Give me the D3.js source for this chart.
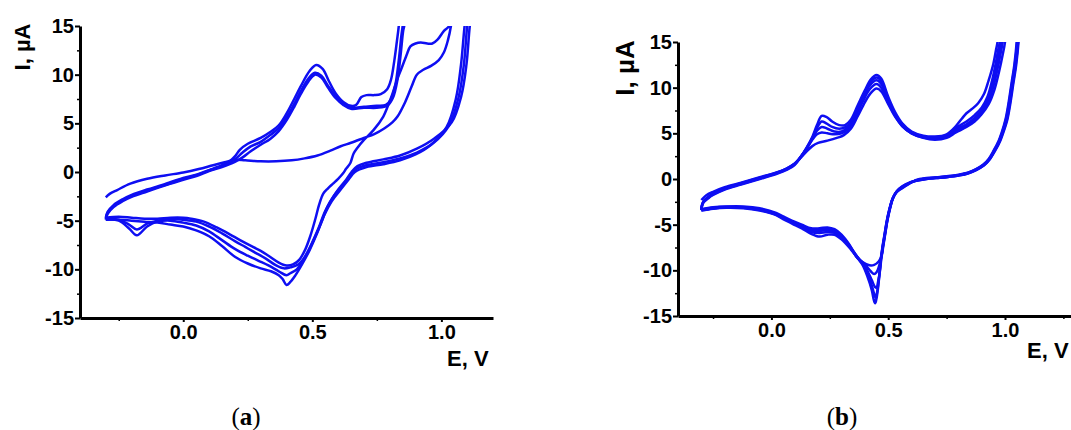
<!DOCTYPE html>
<html><head><meta charset="utf-8">
<script src="https://cdn.jsdelivr.net/npm/d3@7"></script>
<style>body{margin:0;background:#fff}svg{display:block}</style>
</head><body>
<svg id="c" width="1071" height="430"></svg>
<script>
// ---------- DATA (E in V, I in µA) ----------
// Panel (a): four potential cycles
const aCycle1 = [[-0.300,-2.6],[-0.285,-2.25],[-0.256,-1.85],[-0.205,-1.2],[-0.14,-0.7],[-0.07,-0.35],[0.0,-0.05],[0.06,0.3],[0.116,0.7],[0.16,1.0],[0.2,1.25],[0.24,1.2],[0.3,1.1],[0.36,1.1],[0.42,1.2],[0.47,1.4],[0.52,1.7],[0.57,2.2],[0.61,2.65],[0.65,3.0],[0.7,3.5],[0.74,3.9],[0.78,4.5],[0.81,5.1],[0.83,5.7],[0.86,7.2],[0.885,8.8],[0.905,10.0],[0.93,10.5],[0.96,10.9],[0.99,11.5],[1.01,12.3],[1.025,13.5],[1.037,15],[1.045,17],[1.05,25],
 [1.06,25],[1.045,17],[1.03,15],[1.01,14.5],[0.985,13.6],[0.965,13.2],[0.945,13.2],[0.92,13.3],[0.9,13.2],[0.88,12.9],[0.865,12.0],[0.845,10.6],[0.83,9.6],[0.81,8.0],[0.79,6.6],[0.775,5.7],[0.737,4.3],[0.70,3.3],[0.675,2.5],[0.66,1.9],[0.647,0.9],[0.63,0.3],[0.62,-0.1],[0.60,-0.7],[0.58,-1.2],[0.56,-1.7],[0.543,-2.2],[0.527,-3.3],[0.512,-4.8],[0.492,-6.6],[0.472,-8.0],[0.45,-9.0],[0.425,-9.5],[0.40,-9.6],[0.37,-9.3],[0.33,-8.6],[0.3,-8.1],[0.27,-7.7],[0.22,-7.0],[0.18,-6.4],[0.13,-5.7],[0.08,-5.1],[0.03,-4.8],[0.0,-4.7],[-0.05,-4.7],[-0.1,-4.8],[-0.15,-4.8],[-0.2,-4.7],[-0.25,-4.6],[-0.3,-4.7]];
const aCycle2 = [[-0.3,-4.7],[-0.293,-4.1],[-0.27,-3.4],[-0.235,-2.8],[-0.2,-2.35],[-0.14,-1.8],[-0.078,-1.3],[0.0,-0.6],[0.054,-0.25],[0.1,0.2],[0.15,0.7],[0.18,1.1],[0.2,1.6],[0.22,2.3],[0.25,2.9],[0.3,3.5],[0.337,4.1],[0.37,4.8],[0.40,6.0],[0.43,7.5],[0.455,8.8],[0.49,10.4],[0.515,11.0],[0.54,10.6],[0.565,9.3],[0.59,8.1],[0.62,7.2],[0.65,6.8],[0.67,6.9],[0.69,7.7],[0.71,7.9],[0.74,7.9],[0.765,8.0],[0.79,8.5],[0.805,9.5],[0.818,11.5],[0.828,13.5],[0.835,15],[0.845,18],[0.86,25],
 [1.13,25],[1.12,17],[1.11,15],[1.097,11],[1.077,7.8],[1.04,5.1],[0.97,3.4],[0.905,2.4],[0.84,1.7],[0.775,1.3],[0.71,0.95],[0.675,0.6],[0.652,0.0],[0.628,-0.9],[0.595,-2.0],[0.56,-3.5],[0.535,-5.2],[0.505,-7.0],[0.475,-8.6],[0.445,-9.5],[0.415,-9.8],[0.39,-9.9],[0.36,-9.6],[0.32,-8.9],[0.28,-8.3],[0.24,-7.7],[0.2,-7.1],[0.15,-6.3],[0.1,-5.6],[0.05,-5.1],[0.0,-4.9],[-0.05,-4.8],[-0.1,-5.0],[-0.14,-5.3],[-0.18,-5.9],[-0.21,-5.4],[-0.25,-4.9],[-0.3,-4.8]];
const aCycle3 = [[-0.3,-4.8],[-0.293,-4.2],[-0.27,-3.5],[-0.235,-2.9],[-0.2,-2.45],[-0.14,-1.9],[-0.078,-1.4],[0.0,-0.7],[0.054,-0.3],[0.1,0.15],[0.15,0.6],[0.18,0.95],[0.2,1.3],[0.23,2.0],[0.26,2.6],[0.3,3.1],[0.337,3.8],[0.37,4.5],[0.40,5.6],[0.43,7.0],[0.455,8.3],[0.485,9.6],[0.51,10.2],[0.535,9.9],[0.56,8.9],[0.59,7.8],[0.62,7.0],[0.65,6.6],[0.7,6.7],[0.75,6.8],[0.785,6.9],[0.805,7.5],[0.822,9.0],[0.835,11.5],[0.845,14],[0.85,15],[0.86,18],[0.87,25],
 [1.12,25],[1.11,17],[1.10,15],[1.087,11],[1.067,7.7],[1.03,4.8],[0.97,3.0],[0.905,2.0],[0.84,1.4],[0.775,1.0],[0.71,0.7],[0.67,0.3],[0.645,-0.4],[0.62,-1.3],[0.585,-2.4],[0.55,-4.0],[0.525,-5.7],[0.495,-7.5],[0.465,-9.0],[0.44,-10.0],[0.415,-10.4],[0.40,-10.6],[0.37,-10.2],[0.33,-9.6],[0.29,-9.1],[0.25,-8.6],[0.2,-7.9],[0.15,-7.0],[0.1,-6.1],[0.05,-5.5],[0.0,-5.2],[-0.05,-5.0],[-0.1,-5.1],[-0.14,-5.6],[-0.18,-6.5],[-0.21,-5.8],[-0.25,-5.0],[-0.3,-4.9]];
const aCycle4 = [[-0.3,-4.9],[-0.293,-4.3],[-0.27,-3.6],[-0.235,-3.0],[-0.2,-2.55],[-0.14,-2.0],[-0.078,-1.45],[0.0,-0.8],[0.054,-0.4],[0.1,0.1],[0.15,0.5],[0.18,0.8],[0.2,1.05],[0.23,1.5],[0.26,2.1],[0.3,2.8],[0.337,3.4],[0.37,4.2],[0.40,5.3],[0.43,6.7],[0.455,8.0],[0.485,9.3],[0.51,10.0],[0.535,9.7],[0.56,8.7],[0.59,7.6],[0.62,6.9],[0.65,6.5],[0.7,6.6],[0.75,6.6],[0.79,6.8],[0.812,7.6],[0.83,9.5],[0.842,12],[0.852,14.5],[0.856,15],[0.865,18],[0.875,25],
 [1.11,25],[1.10,17],[1.09,15],[1.076,11],[1.056,7.5],[1.02,4.6],[0.96,2.8],[0.9,1.8],[0.84,1.2],[0.775,0.8],[0.71,0.5],[0.665,0.0],[0.64,-0.8],[0.61,-1.8],[0.575,-3.0],[0.545,-4.5],[0.52,-6.2],[0.49,-8.0],[0.46,-9.5],[0.435,-10.6],[0.415,-11.3],[0.40,-11.6],[0.385,-11.0],[0.37,-10.6],[0.34,-10.2],[0.3,-9.9],[0.25,-9.4],[0.2,-8.7],[0.15,-7.6],[0.1,-6.6],[0.05,-6.0],[0.0,-5.6],[-0.05,-5.4],[-0.1,-5.2],[-0.15,-5.1],[-0.2,-5.0],[-0.25,-4.9],[-0.3,-4.9]];

// Panel (b): five potential cycles
const bCycle1 = [[-0.3,-2.3],[-0.28,-1.8],[-0.25,-1.4],[-0.2,-0.9],[-0.13,-0.4],[-0.05,0.2],[0.02,0.7],[0.065,1.15],[0.1,1.7],[0.125,2.3],[0.15,3.0],[0.175,3.6],[0.2,3.95],[0.24,4.2],[0.28,4.5],[0.31,4.8],[0.34,5.5],[0.37,6.9],[0.4,8.4],[0.425,9.4],[0.45,9.9],[0.47,9.6],[0.5,8.2],[0.53,6.8],[0.56,5.8],[0.6,5.0],[0.65,4.5],[0.7,4.3],[0.75,4.5],[0.79,5.1],[0.835,5.7],[0.87,6.3],[0.9,7.1],[0.93,8.2],[0.955,9.8],[0.975,11.8],[0.99,13.6],[1.0,15],[1.01,18],[1.02,25],
 [1.07,25],[1.062,17],[1.058,15],[1.048,12.5],[1.036,10.5],[1.023,8.3],[1.01,6.5],[0.993,5.1],[0.98,4.2],[0.958,3.1],[0.936,2.2],[0.91,1.5],[0.878,1.0],[0.84,0.6],[0.806,0.4],[0.75,0.2],[0.707,0.1],[0.664,0.0],[0.62,-0.2],[0.59,-0.4],[0.56,-0.8],[0.538,-1.3],[0.522,-2.0],[0.509,-3.1],[0.497,-4.5],[0.488,-5.9],[0.479,-7.3],[0.472,-8.4],[0.46,-9.0],[0.44,-9.4],[0.42,-9.45],[0.39,-9.1],[0.364,-8.5],[0.334,-7.2],[0.3,-6.1],[0.27,-5.5],[0.24,-5.3],[0.206,-5.4],[0.17,-5.4],[0.13,-5.0],[0.09,-4.6],[0.05,-4.1],[0.02,-3.7],[-0.05,-3.2],[-0.12,-3.0],[-0.193,-3.0],[-0.25,-3.1],[-0.3,-3.3]];
const bCycle2 = [[-0.3,-3.3],[-0.297,-2.8],[-0.29,-2.4],[-0.27,-1.95],[-0.25,-1.6],[-0.2,-1.0],[-0.13,-0.45],[-0.05,0.15],[0.02,0.7],[0.065,1.15],[0.1,1.7],[0.125,2.4],[0.15,3.3],[0.175,4.3],[0.195,4.9],[0.215,5.1],[0.24,5.0],[0.27,4.9],[0.3,5.0],[0.33,5.5],[0.36,6.8],[0.39,8.4],[0.42,9.8],[0.45,10.4],[0.47,10.0],[0.5,8.4],[0.53,6.9],[0.56,5.8],[0.6,5.0],[0.65,4.55],[0.7,4.4],[0.75,4.6],[0.79,5.2],[0.835,5.8],[0.87,6.5],[0.9,7.3],[0.93,8.6],[0.952,10.3],[0.97,12.3],[0.983,14],[0.99,15],[1.0,18],[1.01,25],
 [1.068,25],[1.06,17],[1.056,15],[1.046,12.5],[1.034,10.5],[1.021,8.3],[1.008,6.5],[0.991,5.1],[0.978,4.2],[0.956,3.1],[0.935,2.2],[0.91,1.5],[0.878,1.0],[0.84,0.6],[0.806,0.4],[0.75,0.2],[0.707,0.1],[0.664,0.0],[0.62,-0.2],[0.59,-0.45],[0.56,-0.85],[0.537,-1.35],[0.521,-2.05],[0.508,-3.15],[0.496,-4.55],[0.487,-5.95],[0.478,-7.35],[0.47,-8.6],[0.46,-9.6],[0.45,-10.2],[0.44,-10.4],[0.425,-10.1],[0.405,-9.5],[0.385,-9.0],[0.364,-8.5],[0.334,-7.3],[0.3,-6.2],[0.27,-5.6],[0.24,-5.45],[0.206,-5.55],[0.17,-5.5],[0.13,-5.1],[0.09,-4.7],[0.05,-4.2],[0.02,-3.8],[-0.05,-3.3],[-0.12,-3.1],[-0.193,-3.05],[-0.25,-3.15],[-0.3,-3.35]];
const bCycle3 = [[-0.3,-3.35],[-0.297,-2.85],[-0.29,-2.45],[-0.27,-2.0],[-0.25,-1.65],[-0.2,-1.05],[-0.13,-0.5],[-0.05,0.1],[0.02,0.65],[0.065,1.1],[0.1,1.65],[0.125,2.4],[0.15,3.3],[0.175,4.4],[0.195,5.3],[0.215,5.7],[0.24,5.5],[0.27,5.2],[0.3,5.2],[0.33,5.7],[0.36,7.1],[0.39,8.7],[0.42,10.2],[0.45,10.8],[0.47,10.4],[0.5,8.6],[0.53,7.0],[0.56,5.9],[0.6,5.05],[0.65,4.6],[0.7,4.5],[0.75,4.7],[0.79,5.4],[0.835,6.0],[0.87,6.7],[0.9,7.5],[0.93,8.9],[0.95,10.6],[0.965,12.4],[0.978,14.2],[0.985,15],[0.995,18],[1.005,25],
 [1.066,25],[1.058,17],[1.054,15],[1.044,12.5],[1.032,10.5],[1.019,8.3],[1.006,6.5],[0.99,5.1],[0.977,4.2],[0.955,3.1],[0.934,2.2],[0.91,1.55],[0.878,1.05],[0.84,0.65],[0.806,0.45],[0.75,0.25],[0.707,0.15],[0.664,0.05],[0.62,-0.15],[0.59,-0.45],[0.56,-0.9],[0.536,-1.4],[0.52,-2.1],[0.507,-3.2],[0.495,-4.6],[0.486,-6.0],[0.477,-7.4],[0.471,-8.6],[0.465,-10.0],[0.457,-11.2],[0.45,-11.9],[0.443,-11.8],[0.43,-11.1],[0.41,-10.0],[0.39,-9.2],[0.37,-8.6],[0.34,-7.5],[0.3,-6.3],[0.27,-5.75],[0.24,-5.6],[0.206,-5.7],[0.17,-5.65],[0.13,-5.2],[0.09,-4.75],[0.05,-4.25],[0.02,-3.85],[-0.05,-3.35],[-0.12,-3.12],[-0.193,-3.1],[-0.25,-3.2],[-0.3,-3.4]];
const bCycle4 = [[-0.3,-3.4],[-0.297,-2.9],[-0.29,-2.5],[-0.27,-2.05],[-0.25,-1.7],[-0.2,-1.1],[-0.13,-0.55],[-0.05,0.05],[0.02,0.6],[0.065,1.05],[0.1,1.6],[0.125,2.4],[0.15,3.35],[0.175,4.5],[0.195,5.6],[0.215,6.3],[0.235,6.1],[0.26,5.7],[0.29,5.5],[0.32,5.7],[0.345,6.4],[0.37,7.7],[0.4,9.4],[0.425,10.6],[0.45,11.1],[0.47,10.7],[0.5,8.8],[0.53,7.1],[0.56,6.0],[0.6,5.1],[0.65,4.65],[0.7,4.55],[0.75,4.8],[0.79,5.6],[0.835,6.3],[0.87,7.0],[0.9,7.8],[0.925,9.0],[0.945,10.8],[0.96,12.6],[0.972,14.3],[0.978,15],[0.988,18],[0.998,25],
 [1.064,25],[1.056,17],[1.052,15],[1.042,12.5],[1.03,10.5],[1.017,8.3],[1.004,6.5],[0.988,5.1],[0.975,4.2],[0.953,3.1],[0.932,2.2],[0.908,1.55],[0.876,1.05],[0.84,0.65],[0.806,0.45],[0.75,0.25],[0.707,0.15],[0.664,0.05],[0.62,-0.15],[0.59,-0.5],[0.56,-0.95],[0.535,-1.45],[0.519,-2.15],[0.506,-3.25],[0.494,-4.65],[0.485,-6.05],[0.476,-7.45],[0.47,-8.6],[0.464,-10.0],[0.457,-11.6],[0.45,-12.7],[0.446,-13.0],[0.44,-12.6],[0.43,-11.7],[0.41,-10.3],[0.39,-9.3],[0.37,-8.6],[0.34,-7.6],[0.3,-6.4],[0.27,-5.9],[0.24,-5.8],[0.206,-5.9],[0.17,-5.8],[0.13,-5.3],[0.09,-4.8],[0.05,-4.3],[0.02,-3.9],[-0.05,-3.4],[-0.12,-3.15],[-0.193,-3.12],[-0.25,-3.22],[-0.3,-3.42]];
const bCycle5 = [[-0.3,-3.42],[-0.297,-2.95],[-0.29,-2.55],[-0.27,-2.1],[-0.25,-1.75],[-0.2,-1.15],[-0.13,-0.6],[-0.05,0.0],[0.02,0.55],[0.065,1.0],[0.1,1.55],[0.125,2.4],[0.15,3.4],[0.175,4.6],[0.195,5.9],[0.215,6.9],[0.235,6.8],[0.26,6.3],[0.29,5.9],[0.315,5.9],[0.34,6.5],[0.37,8.1],[0.4,9.7],[0.425,10.9],[0.45,11.4],[0.47,11.0],[0.5,9.0],[0.53,7.3],[0.56,6.1],[0.6,5.2],[0.65,4.75],[0.7,4.65],[0.75,4.9],[0.79,5.8],[0.815,6.6],[0.835,7.2],[0.86,7.7],[0.885,8.3],[0.91,9.3],[0.93,10.8],[0.95,12.6],[0.962,14.2],[0.968,15],[0.975,18],[0.985,25],
 [1.062,25],[1.054,17],[1.05,15],[1.04,12.5],[1.028,10.5],[1.015,8.3],[1.002,6.5],[0.986,5.1],[0.973,4.2],[0.951,3.1],[0.93,2.2],[0.906,1.55],[0.874,1.05],[0.84,0.7],[0.806,0.5],[0.75,0.3],[0.707,0.2],[0.664,0.1],[0.62,-0.1],[0.59,-0.5],[0.56,-1.0],[0.534,-1.5],[0.518,-2.2],[0.505,-3.3],[0.493,-4.7],[0.484,-6.1],[0.475,-7.5],[0.469,-8.6],[0.464,-10.0],[0.457,-11.8],[0.449,-13.2],[0.444,-13.6],[0.438,-13.2],[0.43,-12.2],[0.41,-10.6],[0.39,-9.4],[0.37,-8.7],[0.34,-7.7],[0.3,-6.6],[0.27,-6.1],[0.24,-6.1],[0.206,-6.3],[0.17,-6.0],[0.13,-5.4],[0.09,-4.9],[0.05,-4.4],[0.02,-3.95],[-0.05,-3.45],[-0.12,-3.2],[-0.193,-3.15],[-0.25,-3.25],[-0.3,-3.45]];

const xMajorTicks = [0.0, 0.5, 1.0];
const xMinorTicks = [-0.25, 0.25, 0.75, 1.25];
const yMajorTicks = [-15, -10, -5, 0, 5, 10, 15];
const yMinorTicks = [-12.5, -7.5, -2.5, 2.5, 7.5, 12.5];
const yLabel = "I, µA";
const xLabel = "E, V";
const captions = ["a", "b"];

// ---------- DRAWING ----------
const svg = d3.select("#c");
const blue = "#0e0ef2";
const sans = "'Liberation Sans', Arial, sans-serif";

function panel(cfg) {
  const x = d3.scaleLinear().domain(cfg.xDomain).range(cfg.xRange);
  const y = d3.scaleLinear().domain([-15, 15]).range(cfg.yRange);
  const g = svg.append("g");
  g.append("clipPath").attr("id", cfg.id).append("rect")
    .attr("x", cfg.xRange[0]).attr("y", cfg.yRange[1])
    .attr("width", cfg.xRange[1] - cfg.xRange[0]).attr("height", cfg.yRange[0] - cfg.yRange[1]);
  const line = d3.line().x(d => x(d[0])).y(d => y(d[1])).curve(d3.curveCatmullRom.alpha(0.5));
  g.append("g").attr("clip-path", `url(#${cfg.id})`)
    .selectAll("path").data(cfg.cycles).join("path")
    .attr("d", line).attr("fill", "none").attr("stroke", blue)
    .attr("stroke-width", 2.5).attr("stroke-linejoin", "round");

  // minor ticks
  g.append("g").attr("transform", `translate(${cfg.xRange[0]},0)`)
    .call(d3.axisLeft(y).tickValues(yMinorTicks).tickSize(3).tickFormat(""))
    .call(s => s.select(".domain").remove())
    .selectAll("line").attr("stroke-width", 1.5);
  g.append("g").attr("transform", `translate(0,${cfg.yRange[0]})`)
    .call(d3.axisBottom(x).tickValues(xMinorTicks.filter(v => v <= cfg.xDomain[1])).tickSize(3).tickFormat(""))
    .call(s => s.select(".domain").remove())
    .selectAll("line").attr("stroke-width", 1.5);

  // major axes
  const ya = g.append("g").attr("transform", `translate(${cfg.xRange[0]},0)`)
    .call(d3.axisLeft(y).tickValues(yMajorTicks).tickSize(5).tickSizeOuter(0).tickPadding(1).tickFormat(d => String(d)));
  const xa = g.append("g").attr("transform", `translate(0,${cfg.yRange[0]})`)
    .call(d3.axisBottom(x).tickValues(xMajorTicks).tickSize(4).tickSizeOuter(0).tickPadding(3).tickFormat(d => d.toFixed(1)));
  [ya, xa].forEach(a => {
    a.select(".domain").attr("stroke-width", 3);
    a.selectAll(".tick line").attr("stroke-width", 2);
    a.selectAll("text").attr("font-family", sans).attr("font-weight", "bold")
      .attr("font-size", 20).attr("fill", "#000");
  });

  // axis titles
  g.append("text").attr("transform", `translate(${cfg.yLabelX},${cfg.yLabelY}) rotate(-90)`)
    .attr("text-anchor", "middle").attr("font-family", sans).attr("font-weight", "bold")
    .attr("font-size", cfg.yLabelSize).text(yLabel);
  g.append("text").attr("x", cfg.xLabelX).attr("y", cfg.xLabelY)
    .attr("font-family", sans).attr("font-weight", "bold").attr("font-size", 22).text(xLabel);

  // caption
  const t = g.append("text").attr("x", cfg.capX).attr("y", 425).attr("text-anchor", "middle")
    .attr("font-family", "'Liberation Serif', 'DejaVu Serif', serif").attr("font-size", 25);
  t.append("tspan").text("(");
  t.append("tspan").attr("font-weight", "bold").text(cfg.caption);
  t.append("tspan").text(")");
}

panel({
  id: "clipA", cycles: [aCycle1, aCycle2, aCycle3, aCycle4],
  xDomain: [-0.4, 1.2], xRange: [80, 493], yRange: [318, 26],
  yLabelX: 30, yLabelY: 47, yLabelSize: 22,
  xLabelX: 447, xLabelY: 366, capX: 246, caption: captions[0]
});
panel({
  id: "clipB", cycles: [bCycle1, bCycle2, bCycle3, bCycle4, bCycle5],
  xDomain: [-0.4, 1.3], xRange: [678, 678 + 1.7 * 233.57], yRange: [316, 42],
  yLabelX: 634, yLabelY: 68, yLabelSize: 26,
  xLabelX: 1027, xLabelY: 358, capX: 842, caption: captions[1]
});
</script>
</body></html>
